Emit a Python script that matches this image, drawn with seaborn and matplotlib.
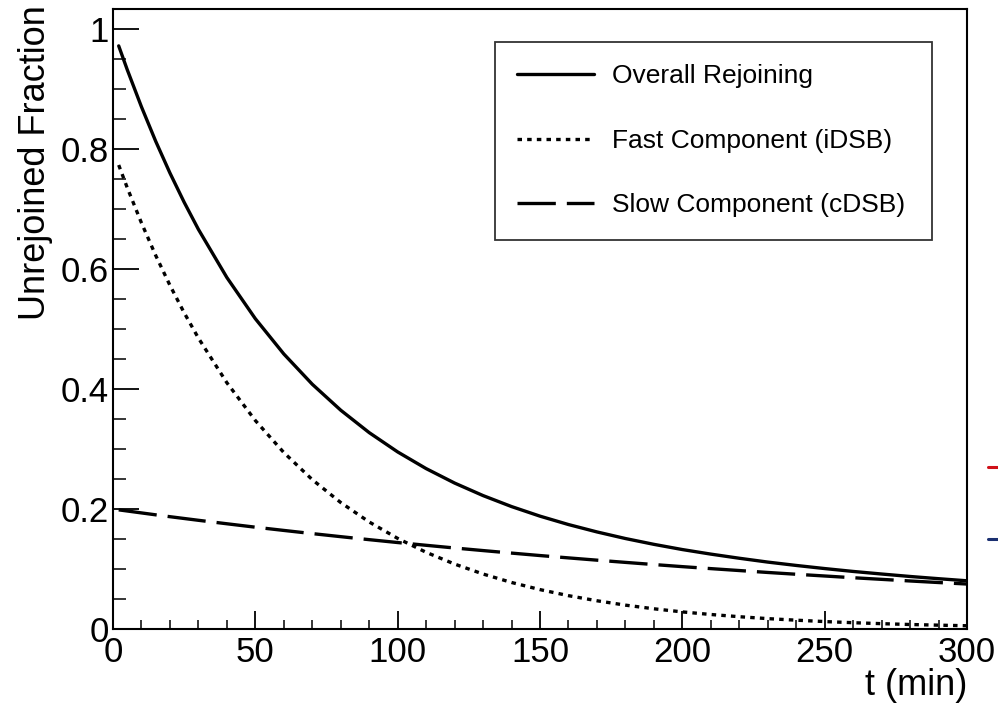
import matplotlib
matplotlib.use("Agg")
import matplotlib.pyplot as plt
from matplotlib.lines import Line2D
from matplotlib.ticker import MultipleLocator
import seaborn as sns

# ---- data ----
t_min = [2, 5, 10, 15, 20, 25, 30, 40, 50, 60, 70, 80, 90, 100, 110, 120, 130, 140,
         150, 160, 170, 180, 190, 200, 210, 220, 230, 240, 250, 260, 270, 280, 290, 300]
fast_idsb = [0.7738, 0.7360, 0.6772, 0.6230, 0.5732, 0.5274, 0.4852, 0.4107, 0.3477,
             0.2943, 0.2491, 0.2109, 0.1785, 0.1511, 0.1279, 0.1083, 0.0917, 0.0776,
             0.0657, 0.0556, 0.0471, 0.0398, 0.0337, 0.0285, 0.0242, 0.0205, 0.0173,
             0.0147, 0.0124, 0.0105, 0.0089, 0.0075, 0.0064, 0.0054]
slow_cdsb = [0.1987, 0.1968, 0.1936, 0.1904, 0.1873, 0.1843, 0.1813, 0.1755, 0.1698,
             0.1644, 0.1591, 0.1540, 0.1490, 0.1442, 0.1396, 0.1351, 0.1308, 0.1266,
             0.1225, 0.1186, 0.1148, 0.1111, 0.1075, 0.1040, 0.1007, 0.0975, 0.0943,
             0.0913, 0.0884, 0.0855, 0.0828, 0.0801, 0.0775, 0.0750]
overall = [0.9725, 0.9328, 0.8708, 0.8134, 0.7605, 0.7117, 0.6665, 0.5862, 0.5175,
           0.4587, 0.4082, 0.3649, 0.3275, 0.2953, 0.2675, 0.2434, 0.2225, 0.2042,
           0.1882, 0.1742, 0.1619, 0.1509, 0.1412, 0.1325, 0.1249, 0.1180, 0.1116,
           0.1060, 0.1008, 0.0960, 0.0917, 0.0876, 0.0839, 0.0804]
labels = ["Overall Rejoining", "Fast Component (iDSB)", "Slow Component (cDSB)"]
x_ticks = [0, 50, 100, 150, 200, 250, 300]
y_ticks = [0, 0.2, 0.4, 0.6, 0.8, 1]
y_ticklabels = ["0", "0.2", "0.4", "0.6", "0.8", "1"]

sns.set_theme(style="white")
plt.rcParams["font.family"] = ["Liberation Sans", "DejaVu Sans"]

W, H = 998, 707
fig = plt.figure(figsize=(W / 100, H / 100), dpi=100)
ax = fig.add_axes([113 / W, 1 - 629 / H, (967 - 113) / W, (629 - 9) / H])

lw = 2.4
sns.lineplot(x=t_min, y=overall, ax=ax, color="black", linewidth=lw,
             label=labels[0], linestyle="-")
sns.lineplot(x=t_min, y=fast_idsb, ax=ax, color="black", linewidth=lw,
             label=labels[1], linestyle=(0, (1.35, 1.55)))
sns.lineplot(x=t_min, y=slow_cdsb, ax=ax, color="black", linewidth=lw,
             label=labels[2], linestyle=(0, (11.5, 3.3)))
for ln in ax.get_lines():
    ln.set_dash_capstyle("butt")

ax.set_xlim(0, 300)
ax.set_ylim(0, 1.034)
ax.set_xticks(x_ticks)
ax.set_xticklabels([str(v) for v in x_ticks])
ax.set_yticks(y_ticks)
ax.set_yticklabels(y_ticklabels)
ax.xaxis.set_minor_locator(MultipleLocator(10))
ax.yaxis.set_minor_locator(MultipleLocator(0.05))

for s in ax.spines.values():
    s.set_visible(True)
    s.set_color("black")
    s.set_linewidth(1.5)

ax.tick_params(axis="x", which="major", direction="in", length=13, width=1.3,
               pad=5, labelsize=25, colors="black", bottom=True, top=False)
ax.tick_params(axis="x", which="minor", direction="in", length=6.5, width=1.3,
               bottom=True, top=False)
ax.tick_params(axis="y", which="major", direction="in", length=19, width=1.3,
               pad=3, labelsize=25, colors="black", left=True, right=False)
ax.tick_params(axis="y", which="minor", direction="in", length=9.5, width=1.3,
               left=True, right=False)

ax.set_xlabel("t (min)", fontsize=26, loc="right", color="black")
ax.xaxis.set_label_coords(1.0, -0.063)
ax.set_ylabel("Unrejoined Fraction", fontsize=26, loc="top", color="black")
ax.yaxis.set_label_coords(-0.070, 1.006)

leg = ax.legend(loc="upper left",
                bbox_to_anchor=(495 / W, 1 - 232 / H, (932 - 495) / W, (232 - 42) / H),
                bbox_transform=fig.transFigure, mode="expand", borderaxespad=0,
                fontsize=19, frameon=True, fancybox=False, shadow=False,
                handlelength=2.9, handletextpad=0.7, borderpad=0.85,
                labelspacing=1.53)
leg.get_frame().set_edgecolor("black")
leg.get_frame().set_linewidth(1.3)
for txt in leg.get_texts():
    txt.set_color("black")
for h in leg.get_lines():
    h.set_linewidth(lw)

# clipped legend marks from a neighbouring pad at the right edge
fig.add_artist(Line2D([988 / W, 1.0], [1 - 467 / H, 1 - 467 / H],
                      color="#d01018", linewidth=2.2, transform=fig.transFigure))
fig.add_artist(Line2D([988 / W, 1.0], [1 - 539 / H, 1 - 539 / H],
                      color="#1a2f70", linewidth=2.2, transform=fig.transFigure))

fig.savefig("out.png", dpi=100, facecolor="white")
